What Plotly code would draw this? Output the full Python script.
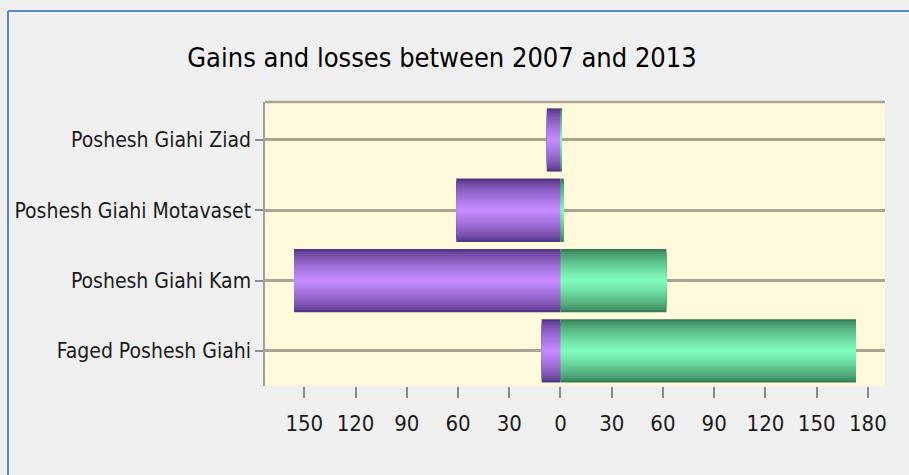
import plotly.graph_objects as go

categories = ["Faged Poshesh Giahi", "Poshesh Giahi Kam", "Poshesh Giahi Motavaset", "Poshesh Giahi Ziad"]
losses = [-11, -156, -61, -8]
gains = [173, 62, 2, 0.5]
tick_vals = [-150, -120, -90, -60, -30, 0, 30, 60, 90, 120, 150, 180]
tick_text = ["150", "120", "90", "60", "30", "0", "30", "60", "90", "120", "150", "180"]
title_text = "Gains and losses between 2007 and 2013"

W, H = 909, 475
L, R, T, B = 265, 24, 102, 89
FONT = "Liberation Sans Narrow, Arial Narrow, DejaVu Sans Condensed, sans-serif"

# cylinder-like shading: stacked overlay layers, outer dark to inner light
def lerp(c1, c2, t):
    a = [int(c1[i:i + 2], 16) for i in (1, 3, 5)]
    b = [int(c2[i:i + 2], 16) for i in (1, 3, 5)]
    return "#" + "".join(f"{round(x + (y - x) * t):02x}" for x, y in zip(a, b))

N = 14
widths = [0.9 * (1 - k / N) for k in range(N)]
purple = [lerp("#553686", "#c48aff", (k / (N - 1)) ** 0.7) for k in range(N)]
green = [lerp("#367f56", "#80fbba", (k / (N - 1)) ** 0.7) for k in range(N)]

fig = go.Figure()
for w, pc, gc in zip(widths, purple, green):
    fig.add_trace(go.Bar(y=categories, x=losses, orientation="h", width=w,
                         marker=dict(color=pc, line=dict(width=0)), showlegend=False,
                         hoverinfo="x+y"))
    fig.add_trace(go.Bar(y=categories, x=gains, orientation="h", width=w,
                         marker=dict(color=gc, line=dict(width=0)), showlegend=False,
                         hoverinfo="x+y"))

pw = W - L - R
ph = H - T - B
def px_x(p):
    return (p - L) / pw
def px_y(p):
    return (H - B - p) / ph

shapes = [
    dict(type="line", xref="paper", yref="paper", x0=0, x1=1, y0=1, y1=1,
         line=dict(color="#a9a592", width=2.5), layer="above"),
    dict(type="line", xref="paper", yref="paper", x0=px_x(8), x1=px_x(912), y0=px_y(11), y1=px_y(11),
         line=dict(color="#5b87cc", width=2)),
    dict(type="line", xref="paper", yref="paper", x0=px_x(8), x1=px_x(8), y0=px_y(11), y1=px_y(480),
         line=dict(color="#5b87cc", width=2)),
]

fig.update_layout(
    width=W, height=H,
    margin=dict(l=L, r=R, t=T, b=B, autoexpand=False),
    paper_bgcolor="#f0f0f0",
    plot_bgcolor="#fffadb",
    barmode="overlay",
    title=dict(text=title_text, x=442 / W, xanchor="center",
               y=1 - 58 / H, yanchor="middle", yref="container", automargin=False,
               font=dict(family=FONT, size=27, color="#000000")),
    font=dict(family=FONT, color="#1a1a1a"),
    shapes=shapes,
    xaxis=dict(range=[-173, 190], tickvals=tick_vals, ticktext=tick_text,
               showgrid=False, zeroline=False, showline=False, automargin=False,
               ticks="outside", ticklen=11, tickwidth=1.5, tickcolor="#8a8a8a",
               ticklabelstandoff=7,
               tickfont=dict(family=FONT, size=22, color="#1a1a1a")),
    yaxis=dict(categoryorder="array", categoryarray=categories, range=[-0.5, 3.54],
               showgrid=True, gridcolor="#a9a592", gridwidth=2.5, automargin=False,
               showline=True, linecolor="#a0a0a0", linewidth=1.5,
               ticks="outside", ticklen=8, tickwidth=1.5, tickcolor="#8a8a8a",
               tickfont=dict(family=FONT, size=21, color="#1a1a1a")),
)

fig.write_html("out.html")
